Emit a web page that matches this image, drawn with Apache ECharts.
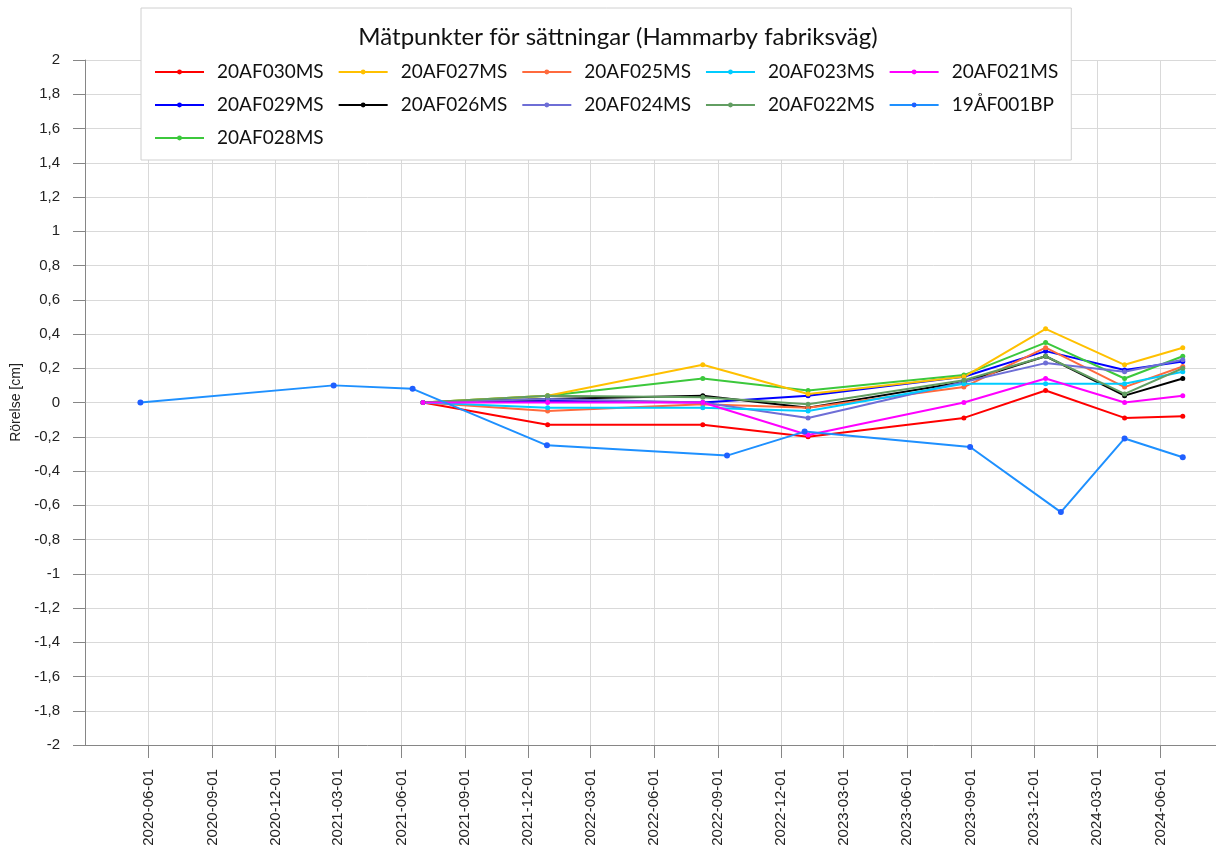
<!DOCTYPE html>
<html>
<head>
<meta charset="utf-8">
<script src="https://cdn.jsdelivr.net/npm/echarts@6/dist/echarts.min.js"></script>
<style>
  html, body { margin: 0; padding: 0; background: #fff; }
  #chart { width: 1216px; height: 857px; }
</style>
</head>
<body>
<div id="chart"></div>
<script>
// mätdatum
const datesMS = ['2021-07-02', '2021-12-29', '2022-08-10', '2023-01-09', '2023-08-22', '2023-12-18', '2024-04-10', '2024-07-03'];
const datesBP = ['2020-05-20', '2021-02-23', '2021-06-17', '2021-12-28', '2022-09-14', '2023-01-04', '2023-08-31', '2024-01-09', '2024-04-10', '2024-07-03'];

// rörelse [cm]
const v030 = [0, -0.13, -0.13, -0.20, -0.09, 0.07, -0.09, -0.08];
const v029 = [0, 0.01, 0.00, 0.04, 0.15, 0.30, 0.19, 0.24];
const v028 = [0, 0.04, 0.14, 0.07, 0.16, 0.35, 0.14, 0.27];
const v027 = [0, 0.04, 0.22, 0.05, 0.15, 0.43, 0.22, 0.32];
const v026 = [0, 0.02, 0.04, -0.03, 0.12, 0.27, 0.04, 0.14];
const v025 = [0, -0.05, -0.01, -0.03, 0.09, 0.32, 0.09, 0.21];
const v024 = [0, 0.02, 0.00, -0.09, 0.12, 0.23, 0.18, 0.25];
const v023 = [0, -0.03, -0.03, -0.05, 0.11, 0.11, 0.11, 0.18];
const v022 = [0, 0.04, 0.03, -0.01, 0.13, 0.27, 0.05, 0.20];
const v021 = [0, 0.00, 0.00, -0.19, 0.00, 0.14, 0.00, 0.04];
const vBP = [0, 0.10, 0.08, -0.25, -0.31, -0.17, -0.26, -0.64, -0.21, -0.32];

const tickDates = ['2020-06-01', '2020-09-01', '2020-12-01', '2021-03-01', '2021-06-01', '2021-09-01',
  '2021-12-01', '2022-03-01', '2022-06-01', '2022-09-01', '2022-12-01', '2023-03-01', '2023-06-01',
  '2023-09-01', '2023-12-01', '2024-03-01', '2024-06-01'];

const legendOrder = ['20AF030MS', '20AF027MS', '20AF025MS', '20AF023MS', '20AF021MS',
  '20AF029MS', '20AF026MS', '20AF024MS', '20AF022MS', '19ÅF001BP', '20AF028MS'];

const tickValues = tickDates.map(function (d) { return Date.parse(d); });

function pairs(dates, vals) {
  return dates.map(function (d, i) { return [Date.parse(d), vals[i]]; });
}

function msSeries(name, vals, color) {
  return {
    name: name,
    type: 'line',
    data: pairs(datesMS, vals),
    symbol: 'circle',
    symbolSize: 5,
    color: color,
    lineStyle: { width: 2, color: color },
    itemStyle: { color: color },
    emphasis: { disabled: true }
  };
}

function pad(n) { return n < 10 ? '0' + n : '' + n; }

const chart = echarts.init(document.getElementById('chart'));
chart.setOption({
  animation: false,
  title: {
    text: 'Mätpunkter för sättningar (Hammarby fabriksväg)',
    left: 618,
    textAlign: 'center',
    top: 25,
    padding: 0,
    z: 10,
    textStyle: { fontFamily: 'Lato', fontSize: 24, fontWeight: 'normal', color: '#111' }
  },
  legend: {
    data: legendOrder,
    left: 141,
    top: 8,
    width: 960,
    padding: [54.5, 13, 12.5, 13],
    itemWidth: 49,
    itemHeight: 6,
    itemGap: 14,
    backgroundColor: '#fff',
    borderColor: '#d0d0d0',
    borderWidth: 1,
    formatter: '{n|{name}}',
    textStyle: {
      fontFamily: 'Lato', fontSize: 19, color: '#111',
      rich: {
        n: {
          fontFamily: 'Lato', fontSize: 19, color: '#111',
          padding: [0, 5, 0, 8]
        }
      }
    }
  },
  grid: { left: 85, right: 0, top: 60, bottom: 112 },
  xAxis: {
    type: 'value',
    min: Date.parse('2020-03-01'),
    max: Date.parse('2024-08-20'),
    axisLine: { onZero: false, lineStyle: { color: '#868686', width: 1 } },
    axisTick: { show: true, length: 13, lineStyle: { color: '#868686' }, customValues: tickValues },
    axisLabel: {
      customValues: tickValues,
      rotate: 90,
      margin: 24,
      fontFamily: 'Liberation Sans',
      fontSize: 15,
      color: '#222',
      formatter: function (val) {
        const d = new Date(val);
        return d.getUTCFullYear() + '-' + pad(d.getUTCMonth() + 1) + '-' + pad(d.getUTCDate());
      }
    },
    splitLine: { show: true, lineStyle: { color: '#d9d9d9', width: 1 } }
  },
  yAxis: {
    type: 'value',
    min: -2,
    max: 2,
    interval: 0.2,
    name: 'Rörelse [cm]',
    nameLocation: 'middle',
    nameRotate: 90,
    nameGap: 58,
    nameTextStyle: { fontFamily: 'Liberation Sans', fontSize: 14, color: '#222' },
    axisLine: { show: true, lineStyle: { color: '#868686', width: 1 } },
    axisTick: { show: true, length: 12, lineStyle: { color: '#868686' } },
    axisLabel: {
      margin: 25,
      fontFamily: 'Liberation Sans',
      fontSize: 15,
      color: '#222',
      formatter: function (v) { return String(Math.round(v * 10) / 10).replace('.', ','); }
    },
    splitLine: { show: true, lineStyle: { color: '#d9d9d9', width: 1 } }
  },
  series: [
    msSeries('20AF030MS', v030, '#ff0000'),
    msSeries('20AF029MS', v029, '#0000ff'),
    msSeries('20AF028MS', v028, '#3cc83c'),
    msSeries('20AF027MS', v027, '#ffc000'),
    msSeries('20AF026MS', v026, '#000000'),
    msSeries('20AF025MS', v025, '#ff6a3d'),
    msSeries('20AF024MS', v024, '#6e6ed6'),
    msSeries('20AF023MS', v023, '#00ccff'),
    msSeries('20AF022MS', v022, '#629e62'),
    msSeries('20AF021MS', v021, '#ff00ff'),
    {
      name: '19ÅF001BP',
      type: 'line',
      data: pairs(datesBP, vBP),
      symbol: 'circle',
      symbolSize: 6,
      color: '#1f5fff',
      lineStyle: { width: 2, color: '#1e90ff' },
      itemStyle: { color: '#1f5fff' },
      emphasis: { disabled: true }
    }
  ]
});
</script>
</body>
</html>
